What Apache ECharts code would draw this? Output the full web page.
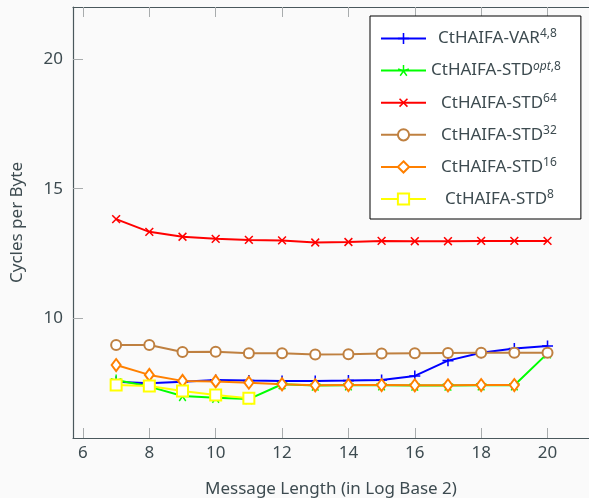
<!DOCTYPE html>
<html>
<head>
<meta charset="utf-8">
<script src="https://cdn.jsdelivr.net/npm/echarts@6/dist/echarts.min.js"></script>
<style>
  html, body { margin: 0; padding: 0; background: #fafafa; }
  #chart { width: 589px; height: 498px; }
</style>
</head>
<body>
<div id="chart"></div>
<script>
const msgLen = [7, 8, 9, 10, 11, 12, 13, 14, 15, 16, 17, 18, 19, 20];
const var48 = [7.57, 7.51, 7.57, 7.63, 7.61, 7.60, 7.60, 7.61, 7.63, 7.79, 8.38, 8.68, 8.85, 8.94];
const stdOpt8 = [7.63, 7.38, 7.02, 6.95, 6.90, 7.47, 7.42, 7.43, 7.43, 7.42, 7.42, 7.43, 7.43, 8.66];
const std64 = [13.83, 13.34, 13.15, 13.07, 13.03, 13.01, 12.93, 12.95, 12.99, 12.98, 12.98, 12.99, 12.99, 12.99];
const std32 = [8.98, 8.98, 8.71, 8.72, 8.66, 8.66, 8.62, 8.63, 8.65, 8.66, 8.67, 8.68, 8.68, 8.68];
const std16 = [8.21, 7.83, 7.60, 7.58, 7.53, 7.47, 7.43, 7.44, 7.44, 7.43, 7.43, 7.44, 7.44];
const std8 = [7.44, 7.40, 7.21, 7.06, 6.93];
const xTicks = [6, 8, 10, 12, 14, 16, 18, 20];
const yTicks = [10, 15, 20];

// the leading {pN| } token only centres each entry in the legend box
const names = ['{p7| }CtHAIFA-VAR{sup|4,8}', '{p0| }CtHAIFA-STD{supi|opt}{sup|,8}', '{p10| }CtHAIFA-STD{sup|64}',
  '{p10| }CtHAIFA-STD{sup|32}', '{p10| }CtHAIFA-STD{sup|16}', '{p14| }CtHAIFA-STD{sup|8}'];

const textColor = '#3d4b50';
const plusPath = 'path://M-1,-0.14H1V0.14H-1Z M-0.14,-1H0.14V1H-0.14Z';

// five armed asterisk, like the pgfplots star mark
function starPath() {
  let d = 'path://';
  const w = 0.13;
  for (let k = 0; k < 5; k++) {
    const a = (90 + k * 72) * Math.PI / 180;
    const dx = Math.cos(a), dy = -Math.sin(a);
    const px = -dy * w, py = dx * w;
    const pts = [[px, py], [dx + px, dy + py], [dx - px, dy - py], [-px, -py]];
    d += 'M' + pts.map(p => p[0].toFixed(3) + ',' + p[1].toFixed(3)).join('L') + 'Z ';
  }
  return d;
}

function pairs(vals) {
  return vals.map((v, i) => [msgLen[i], v]);
}

function line(name, vals, color, symbol, size, extra) {
  return Object.assign({
    name: name,
    type: 'line',
    data: pairs(vals),
    symbol: symbol,
    symbolSize: size,
    showAllSymbol: true,
    lineStyle: { color: color, width: 2 },
    itemStyle: { color: color, borderColor: color, borderWidth: 1.6 },
    emphasis: { disabled: true },
    animation: false
  }, extra || {});
}

const chart = echarts.init(document.getElementById('chart'));
chart.setOption({
  backgroundColor: '#fafafa',
  textStyle: { fontFamily: 'Noto Sans' },
  grid: { left: 73, top: 7, right: 0, bottom: 60, outerBoundsMode: 'none' },
  legend: {
    orient: 'vertical',
    left: 370,
    top: 16,
    padding: [12, 20, 10, 10],
    itemWidth: 45,
    itemHeight: 14,
    itemGap: 11.6,
    itemTextGap: 6,
    backgroundColor: '#ffffff',
    borderColor: '#000000',
    borderWidth: 1,
    borderRadius: 0,
    data: names,
    textStyle: {
      color: textColor,
      fontSize: 17,
      lineHeight: 20,
      rich: {
        p0: { width: 0, fontSize: 17 },
        p7: { width: 7, fontSize: 17 },
        p10: { width: 10, fontSize: 17 },
        p14: { width: 14, fontSize: 17 },
        sup: { fontSize: 12, color: textColor, padding: [0, 0, 9, 0] },
        supi: { fontSize: 12, color: textColor, fontStyle: 'italic', padding: [0, 0, 9, 0] }
      }
    }
  },
  xAxis: [{
    type: 'value',
    min: 5.7,
    max: 21.25,
    name: 'Message Length (in Log Base 2)',
    nameLocation: 'middle',
    nameGap: 43,
    nameTextStyle: { color: textColor, fontSize: 17 },
    axisLine: { show: true, lineStyle: { color: '#4a585c', width: 1.2 } },
    axisTick: { show: true, inside: true, length: 10, customValues: xTicks, lineStyle: { color: '#a8acad' } },
    axisLabel: { color: textColor, fontSize: 17, margin: 7, customValues: xTicks },
    splitLine: { show: false }
  }, {
    type: 'value',
    position: 'top',
    min: 5.7,
    max: 21.25,
    axisLine: { show: true, lineStyle: { color: '#4a585c', width: 1.2 } },
    axisTick: { show: true, inside: true, length: 10, customValues: xTicks, lineStyle: { color: '#a8acad' } },
    axisLabel: { show: false },
    splitLine: { show: false }
  }],
  yAxis: {
    type: 'value',
    min: 5.4,
    max: 22,
    name: 'Cycles per Byte',
    nameLocation: 'middle',
    nameGap: 47,
    nameTextStyle: { color: textColor, fontSize: 17 },
    axisLine: { show: true, lineStyle: { color: '#4a585c', width: 1.2 } },
    axisTick: { show: true, inside: true, length: 10, customValues: yTicks, lineStyle: { color: '#a8acad' } },
    axisLabel: { color: textColor, fontSize: 17, margin: 10, customValues: yTicks },
    splitLine: { show: false }
  },
  series: [
    line(names[0], var48, '#0000ff', plusPath, 11, { itemStyle: { color: '#0000ff', borderWidth: 0 } }),
    line(names[1], stdOpt8, '#00ff00', starPath(), 11, { itemStyle: { color: '#00ff00', borderWidth: 0 } }),
    line(names[2], std64, '#ff0000', plusPath, 11, { symbolRotate: 45, itemStyle: { color: '#ff0000', borderWidth: 0 } }),
    line(names[3], std32, '#bf8040', 'emptyCircle', 10),
    line(names[4], std16, '#ff8000', 'emptyDiamond', [9, 12]),
    line(names[5], std8, '#ffff00', 'emptyRect', 11)
  ]
});
</script>
</body>
</html>
